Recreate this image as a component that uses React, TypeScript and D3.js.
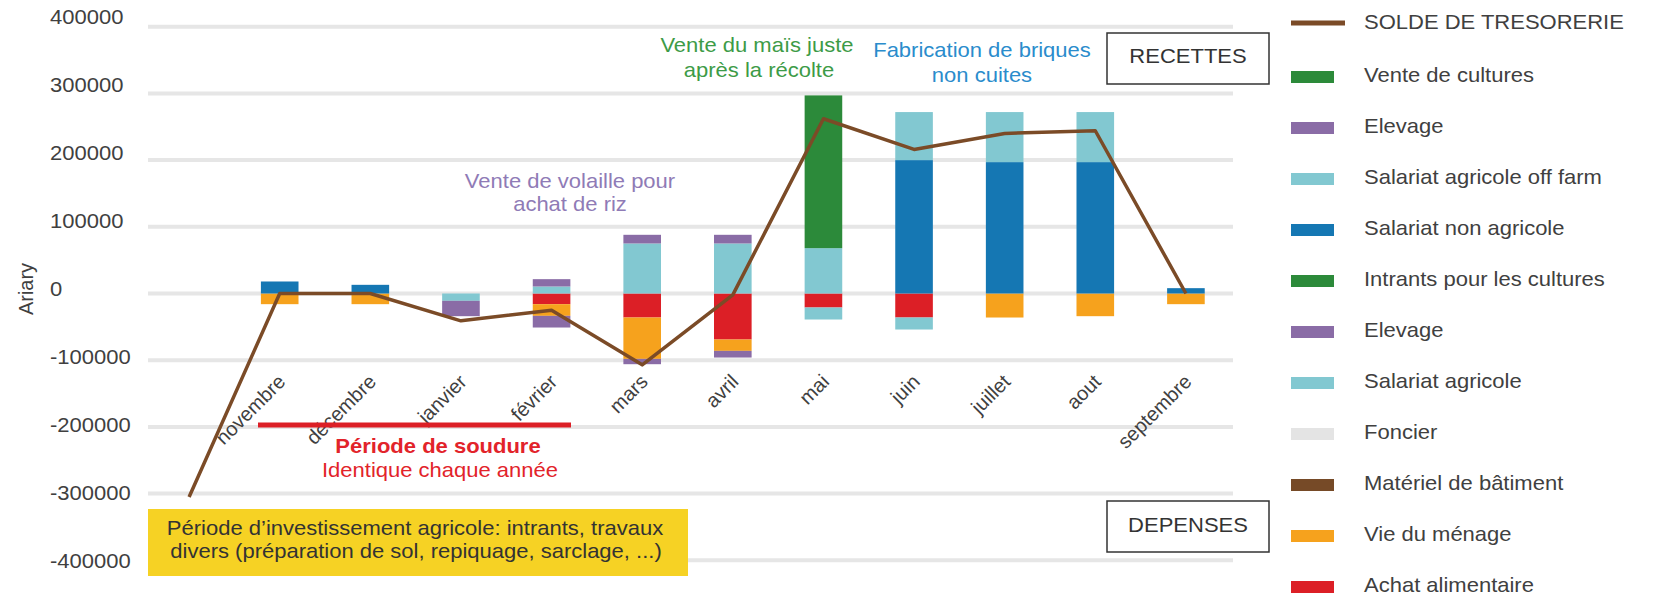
import React from 'react';
import * as d3 from 'd3';

// categories (first slot is the opening balance, no label)
const months = ['', 'novembre', 'décembre', 'janvier', 'février', 'mars', 'avril', 'mai', 'juin', 'juillet', 'aout', 'septembre'];

// recettes
const salariatNonAgricole = [0, 18000, 13000, 0, 0, 0, 0, 0, 200000, 197000, 197000, 8000];
const salariatOffFarm = [0, 0, 0, 0, 10500, 75000, 75000, 68000, 72000, 75000, 75000, 0];
const elevageRecettes = [0, 0, 0, 0, 11000, 13000, 13000, 0, 0, 0, 0, 0];
const venteCultures = [0, 0, 0, 0, 0, 0, 0, 229000, 0, 0, 0, 0];

// depenses
const achatAlimentaire = [0, 0, 0, 0, -16000, -36000, -69000, -21000, -36000, 0, 0, 0];
const vieMenage = [0, -16000, -16000, 0, -17500, -62000, -17000, 0, 0, -36000, -34000, -16000];
const materielBatiment = [0, 0, 0, 0, 0, 0, 0, 0, 0, 0, 0, 0];
const foncier = [0, 0, 0, 0, 0, 0, 0, 0, 0, 0, 0, 0];
const salariatAgricole = [0, 0, 0, -11000, 0, 0, 0, -18000, -18000, 0, 0, 0];
const elevageDepenses = [0, 0, 0, -23000, -17500, -8000, -10000, 0, 0, 0, 0, 0];
const intrants = [0, 0, 0, 0, 0, 0, 0, 0, 0, 0, 0, 0];

const solde = [-305000, 0, 0, -41000, -25000, -107000, -2000, 262000, 216000, 240000, 244000, 0];

const yTicks = [400000, 300000, 200000, 100000, 0, -100000, -200000, -300000, -400000];

// stacking order (closest to zero first), like excel
const series = [
  { key: 'achat', name: 'Achat alimentaire', color: '#dc1f26', values: achatAlimentaire },
  { key: 'vie', name: 'Vie du ménage', color: '#f6a21d', values: vieMenage },
  { key: 'materiel', name: 'Matériel de bâtiment', color: '#764a27', values: materielBatiment },
  { key: 'foncier', name: 'Foncier', color: '#e4e4e4', values: foncier },
  { key: 'salAgr', name: 'Salariat agricole', color: '#82c8d1', values: salariatAgricole },
  { key: 'elevDep', name: 'Elevage', color: '#8a6ca6', values: elevageDepenses },
  { key: 'intrants', name: 'Intrants pour les cultures', color: '#2c8a3a', values: intrants },
  { key: 'nonAgr', name: 'Salariat non agricole', color: '#1577b3', values: salariatNonAgricole },
  { key: 'offFarm', name: 'Salariat agricole off farm', color: '#82c8d1', values: salariatOffFarm },
  { key: 'elevRec', name: 'Elevage', color: '#8a6ca6', values: elevageRecettes },
  { key: 'vente', name: 'Vente de cultures', color: '#2c8a3a', values: venteCultures },
];

const FONT = '"Liberation Sans", Arial, sans-serif';
const TXT = '#404040';
const SX = 1.1; // the reference text is a bit wide

function T(props: any) {
  const { x, y, children, anchor = 'start', size = 20, fill = TXT, weight = 'normal' } = props;
  return (
    <text transform={`translate(${x},${y}) scale(${SX},1)`} textAnchor={anchor} dominantBaseline="middle"
      fontSize={size} fill={fill} fontWeight={weight} fontFamily={FONT}>{children}</text>
  );
}

export default function App() {
  const width = 1655;
  const height = 597;

  const x = d3.scaleBand().domain(months.map((m, i) => String(i))).range([144, 1231]).paddingInner(0.585).paddingOuter(0.29);
  const y = d3.scaleLinear().domain([-400000, 400000]).range([560.3, 26.7]);
  const yLab = d3.scaleLinear().domain([-400000, 400000]).range([563, 18.5]);

  const table = months.map((m, i) => {
    const row: any = { i: String(i) };
    series.forEach(s => (row[s.key] = s.values[i]));
    return row;
  });
  const stacked = d3.stack().keys(series.map(s => s.key)).offset(d3.stackOffsetDiverging)(table);

  const cx = (i: number) => (x(String(i)) as number) + x.bandwidth() / 2;
  const line = d3.line<number>().x((d, i) => cx(i)).y(d => y(d));

  const legend = [
    { name: 'SOLDE DE TRESORERIE', color: '#7b4b27', line: true },
    ...series.slice().reverse().map(s => ({ name: s.name, color: s.color, line: false })),
  ];
  const legendY = (i: number) => (i === 0 ? 24 : 77 + (i - 1) * 51);

  return (
    <svg width={width} height={height} style={{ position: 'absolute', left: 0, top: 0, background: '#fff' }}>
      {/* grid */}
      {yTicks.map(t => (
        <line key={t} x1={148} x2={1233} y1={y(t)} y2={y(t)} stroke="#e6e6e6" strokeWidth={4} />
      ))}
      {yTicks.map(t => (
        <T key={'l' + t} x={50} y={yLab(t)}>{t}</T>
      ))}
      <text transform="translate(33,289) rotate(-90)" textAnchor="middle" fontSize={20} fill={TXT} fontFamily={FONT}>Ariary</text>

      {/* bars */}
      {stacked.map((layer, k) => (
        <g key={layer.key} fill={series[k].color}>
          {layer.map((d, i) => (d[1] - d[0] === 0 ? null : (
            <rect key={i} x={x(String(i))} width={x.bandwidth()} y={y(Math.max(d[0], d[1]))}
              height={Math.abs(y(d[0]) - y(d[1]))} />
          )))}
        </g>
      ))}

      {/* x labels */}
      {months.map((m, i) => (
        <text key={m + i} transform={`translate(${cx(i) + 2},378) rotate(-45)`} textAnchor="end" dy="0.35em"
          fontSize={20} fill={TXT} fontFamily={FONT}>{m}</text>
      ))}

      {/* soudure */}
      <line x1={258} x2={571} y1={425} y2={425} stroke="#dc1f26" strokeWidth={5} />
      <T x={438} y={448} anchor="middle" fill="#e2232a" weight="bold">Période de soudure</T>
      <T x={440} y={472} anchor="middle" fill="#e2232a">Identique chaque année</T>

      {/* annotations */}
      <T x={570} y={183} anchor="middle" fill="#8f7bb6">Vente de volaille pour</T>
      <T x={570} y={206} anchor="middle" fill="#8f7bb6">achat de riz</T>
      <T x={757} y={47} anchor="middle" fill="#3d9b47">Vente du maïs juste</T>
      <T x={759} y={72} anchor="middle" fill="#3d9b47">après la récolte</T>
      <T x={982} y={52} anchor="middle" fill="#2a8ccc">Fabrication de briques</T>
      <T x={982} y={77} anchor="middle" fill="#2a8ccc">non cuites</T>

      {/* solde line */}
      <path d={line(solde) as string} fill="none" stroke="#7b4b27" strokeWidth={3.5} strokeLinejoin="round" />

      {/* yellow box */}
      <rect x={148} y={509} width={540} height={67} fill="#f6d224" />
      <T x={415} y={530} anchor="middle" fill="#333">Période d’investissement agricole: intrants, travaux</T>
      <T x={416} y={553} anchor="middle" fill="#333">divers (préparation de sol, repiquage, sarclage, ...)</T>

      {/* recettes / depenses */}
      <rect x={1107} y={33} width={162} height={51} fill="#fff" stroke="#333" strokeWidth={1.5} />
      <T x={1188} y={58} anchor="middle" fill="#333">RECETTES</T>
      <rect x={1107} y={501} width={162} height={51} fill="#fff" stroke="#333" strokeWidth={1.5} />
      <T x={1188} y={527} anchor="middle" fill="#333">DEPENSES</T>

      {/* legend */}
      {legend.map((l, i) => (
        <g key={i}>
          {l.line
            ? <line x1={1291} x2={1345} y1={legendY(i) - 1} y2={legendY(i) - 1} stroke={l.color} strokeWidth={5} />
            : <rect x={1291} y={legendY(i) - 6} width={43} height={12} fill={l.color} />}
          <T x={1364} y={legendY(i)}>{l.name}</T>
        </g>
      ))}
    </svg>
  );
}
